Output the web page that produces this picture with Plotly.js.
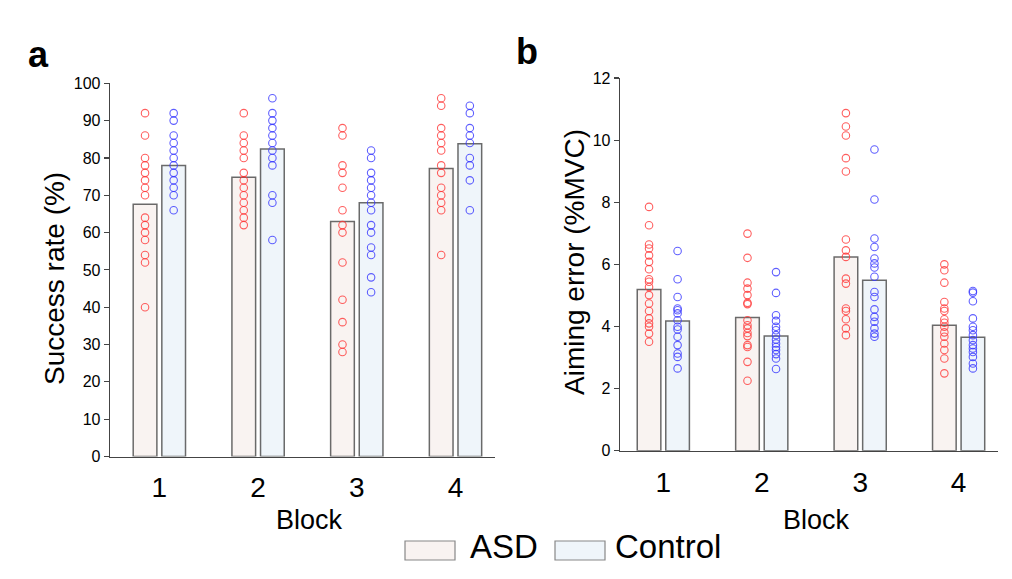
<!DOCTYPE html>
<html>
<head>
<meta charset="utf-8">
<script src="https://cdn.plot.ly/plotly-3.0.1.min.js"></script>
<style>html,body{margin:0;padding:0;background:#fff;}#chart{width:1012px;height:579px;}</style>
</head>
<body>
<div id="chart"></div>
<script>
// ---------- data ----------
const blocks = [1, 2, 3, 4];
const groupNames = ["ASD", "Control"];

// Panel a: success rate (%)
const successMeanASD = [67.6, 74.8, 63.0, 77.2];
const successMeanCtrl = [78.0, 82.4, 68.0, 83.8];
const successASD_b1 = [92, 86, 80, 78, 76, 74, 72, 70, 64, 62, 60, 58, 54, 52, 40];
const successASD_b2 = [92, 86, 84, 82, 80, 76, 74, 72, 70, 68, 66, 64, 62];
const successASD_b3 = [88, 86, 78, 76, 72, 66, 62, 60, 52, 42, 36, 30, 28];
const successASD_b4 = [96, 94, 88, 86, 84, 82, 78, 76, 72, 70, 68, 66, 54];
const successCtrl_b1 = [92, 90, 86, 84, 82, 80, 78, 76, 74, 72, 70, 66];
const successCtrl_b2 = [96, 92, 90, 88, 86, 84, 82, 80, 78, 70, 68, 58];
const successCtrl_b3 = [82, 80, 76, 74, 72, 70, 68, 66, 62, 60, 56, 54, 48, 44];
const successCtrl_b4 = [94, 92, 88, 86, 84, 80, 78, 74, 66];

// Panel b: aiming error (%MVC)
const errorMeanASD = [5.19, 4.29, 6.24, 4.04];
const errorMeanCtrl = [4.18, 3.69, 5.49, 3.65];
const errorASD_b1 = [7.85, 7.26, 6.64, 6.51, 6.29, 6.08, 5.84, 5.52, 5.44, 5.27, 5.01, 4.74, 4.50, 4.26, 4.10, 3.99, 3.77, 3.51];
const errorASD_b2 = [6.99, 6.21, 5.41, 5.22, 5.01, 4.76, 4.72, 4.20, 4.04, 3.94, 3.79, 3.69, 3.40, 3.34, 2.86, 2.25];
const errorASD_b3 = [10.87, 10.44, 10.15, 9.42, 8.99, 6.80, 6.45, 6.24, 5.54, 5.38, 4.58, 4.50, 4.23, 3.94, 3.72];
const errorASD_b4 = [6.00, 5.81, 5.41, 4.79, 4.58, 4.50, 4.23, 4.12, 3.99, 3.81, 3.67, 3.45, 3.24, 2.97, 2.49];
const errorCtrl_b1 = [6.43, 5.52, 4.95, 4.58, 4.52, 4.42, 4.20, 3.99, 3.90, 3.67, 3.40, 3.13, 3.02, 2.65];
const errorCtrl_b2 = [5.75, 5.08, 4.36, 4.18, 3.99, 3.88, 3.72, 3.58, 3.45, 3.34, 3.24, 3.11, 2.97, 2.63];
const errorCtrl_b3 = [9.70, 8.09, 6.83, 6.56, 6.19, 6.03, 5.90, 5.60, 5.11, 4.95, 4.55, 4.31, 4.15, 3.94, 3.77, 3.67];
const errorCtrl_b4 = [5.14, 5.09, 4.81, 4.26, 3.99, 3.88, 3.72, 3.56, 3.40, 3.29, 3.18, 3.02, 2.81, 2.65];

const successTicks = [0, 10, 20, 30, 40, 50, 60, 70, 80, 90, 100];
const errorTicks = [0, 2, 4, 6, 8, 10, 12];

// ---------- styles ----------
const FONT = "Liberation Sans, Arial, Helvetica, sans-serif";
const asdFill = "#f9f3f1", ctrlFill = "#eff5fa";
const barLine = {color: "rgba(70,70,70,0.8)", width: 1.5};
const asdPt = "rgba(255,55,55,0.8)", ctrlPt = "rgba(55,55,255,0.8)";
const barW = 0.24, asdOff = -0.265, ctrlOff = 0.025;
const asdShift = asdOff + barW / 2, ctrlShift = ctrlOff + barW / 2;

function barTrace(means, fill, off, xa, ya, name) {
  return {type: "bar", x: blocks, y: means, width: barW, offset: off, name: name,
    marker: {color: fill, line: barLine}, xaxis: xa, yaxis: ya, hoverinfo: "y"};
}
function pointsTrace(lists, shift, color, xa, ya, name) {
  const xs = [], ys = [];
  lists.forEach((vals, i) => vals.forEach(v => { xs.push(blocks[i] + shift); ys.push(v); }));
  return {type: "scatter", mode: "markers", x: xs, y: ys, name: name,
    marker: {symbol: "circle-open", size: 7.5, color: color, line: {width: 1.1, color: color}},
    xaxis: xa, yaxis: ya, hoverinfo: "y"};
}

const data = [
  barTrace(successMeanASD, asdFill, asdOff, "x", "y", groupNames[0]),
  barTrace(successMeanCtrl, ctrlFill, ctrlOff, "x", "y", groupNames[1]),
  pointsTrace([successASD_b1, successASD_b2, successASD_b3, successASD_b4], asdShift, asdPt, "x", "y", groupNames[0]),
  pointsTrace([successCtrl_b1, successCtrl_b2, successCtrl_b3, successCtrl_b4], ctrlShift, ctrlPt, "x", "y", groupNames[1]),
  barTrace(errorMeanASD, asdFill, asdOff, "x2", "y2", groupNames[0]),
  barTrace(errorMeanCtrl, ctrlFill, ctrlOff, "x2", "y2", groupNames[1]),
  pointsTrace([errorASD_b1, errorASD_b2, errorASD_b3, errorASD_b4], asdShift, asdPt, "x2", "y2", groupNames[0]),
  pointsTrace([errorCtrl_b1, errorCtrl_b2, errorCtrl_b3, errorCtrl_b4], ctrlShift, ctrlPt, "x2", "y2", groupNames[1])
];

const axisColor = "#444";
function xAxis(domain, range, anchor) {
  return {domain: domain, range: range, anchor: anchor, showline: true, linecolor: axisColor, linewidth: 1.3,
    tickmode: "array", tickvals: blocks, ticktext: blocks.map(String), ticks: "", showgrid: false, zeroline: false,
    tickfont: {family: FONT, size: 28, color: "#000"}, ticklabelstandoff: 6, fixedrange: true};
}
function yAxis(domain, range, ticks, anchor) {
  return {domain: domain, range: range, anchor: anchor, showline: true, linecolor: axisColor, linewidth: 1.3,
    tickmode: "array", tickvals: ticks, ticks: "outside", ticklen: 5, tickcolor: axisColor, tickwidth: 1.2,
    showgrid: false, zeroline: false, tickfont: {family: FONT, size: 16, color: "#000"}, fixedrange: true};
}

const W = 1012, H = 579;
const px = v => v / W, py = v => 1 - v / H;

const layout = {
  width: W, height: H, margin: {l: 0, r: 0, t: 0, b: 0},
  paper_bgcolor: "#fff", plot_bgcolor: "rgba(0,0,0,0)", showlegend: false, barmode: "overlay",
  font: {family: FONT, color: "#000"},
  xaxis: xAxis([px(110), px(495)], [0.5, 4.4], "y"),
  yaxis: yAxis([py(456.5), py(83.3)], [0, 100], successTicks, "x"),
  xaxis2: xAxis([px(620), px(998)], [0.56, 4.4], "y2"),
  yaxis2: yAxis([py(450.7), py(78)], [0, 12], errorTicks, "x2"),
  shapes: [
    {type: "rect", xref: "paper", yref: "paper", x0: px(405), x1: px(455), y0: py(560), y1: py(541),
      fillcolor: asdFill, line: {color: "#888", width: 1.2}},
    {type: "rect", xref: "paper", yref: "paper", x0: px(555), x1: px(605), y0: py(560), y1: py(541),
      fillcolor: ctrlFill, line: {color: "#888", width: 1.2}}
  ],
  annotations: [
    {text: "a", xref: "paper", yref: "paper", x: px(38), y: py(55), showarrow: false, xanchor: "center", yanchor: "middle",
      font: {family: FONT, size: 36, color: "#000", weight: "bold"}},
    {text: "b", xref: "paper", yref: "paper", x: px(527), y: py(52), showarrow: false, xanchor: "center", yanchor: "middle",
      font: {family: FONT, size: 36, color: "#000", weight: "bold"}},
    {text: "Success rate (%)", xref: "paper", yref: "paper", x: px(55), y: py(279), showarrow: false, textangle: -90,
      xanchor: "center", yanchor: "middle", font: {family: FONT, size: 28, color: "#000"}},
    {text: "Aiming error (%MVC)", xref: "paper", yref: "paper", x: px(574), y: py(262), showarrow: false, textangle: -90,
      xanchor: "center", yanchor: "middle", font: {family: FONT, size: 28, color: "#000"}},
    {text: "Block", xref: "paper", yref: "paper", x: px(309), y: py(520), showarrow: false,
      xanchor: "center", yanchor: "middle", font: {family: FONT, size: 27, color: "#000"}},
    {text: "Block", xref: "paper", yref: "paper", x: px(816), y: py(520), showarrow: false,
      xanchor: "center", yanchor: "middle", font: {family: FONT, size: 27, color: "#000"}},
    {text: groupNames[0], xref: "paper", yref: "paper", x: px(468), y: py(546), showarrow: false,
      xanchor: "left", yanchor: "middle", font: {family: FONT, size: 33, color: "#000"}},
    {text: groupNames[1], xref: "paper", yref: "paper", x: px(613), y: py(546), showarrow: false,
      xanchor: "left", yanchor: "middle", font: {family: FONT, size: 33, color: "#000"}}
  ]
};

Plotly.newPlot("chart", data, layout, {displayModeBar: false, staticPlot: true});
</script>
</body>
</html>
